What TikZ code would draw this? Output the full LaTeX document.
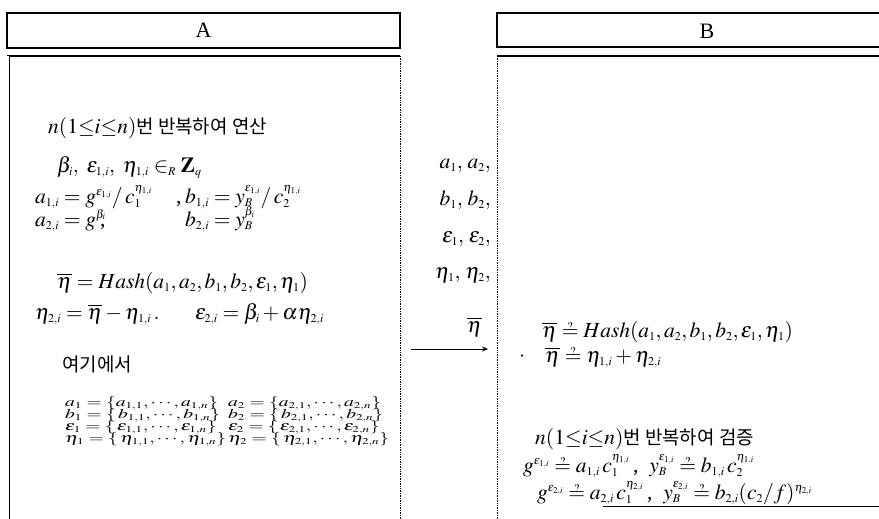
\documentclass[tikz,border=0pt]{standalone}
\usepackage{mathptmx}
\usepackage[no-math]{fontspec}
\usetikzlibrary{arrows.meta}
\setmainfont{Liberation Serif}
\newfontfamily\kor[Scale=0.88]{Noto Sans CJK KR}
\DeclareMathSizes{21.5}{21.5}{12}{9}
\DeclareMathSizes{13.5}{13.5}{9}{7}
\newcommand{\qeq}{\mathrel{\hbox{\ooalign{$=$\cr\hidewidth\raisebox{6.5pt}{$\scriptstyle ?$}\hidewidth\cr}}}}
\newcommand{\wide}[1]{\scalebox{1.45}[1]{#1}}
\tikzset{
  big/.style={anchor=base west, inner sep=0pt, font=\fontsize{21.5}{24}\selectfont},
  sml/.style={anchor=base west, inner sep=0pt, font=\fontsize{13.5}{15}\selectfont},
  mid/.style={anchor=base east, inner sep=0pt, font=\fontsize{21.5}{24}\selectfont},
  hdr/.style={draw, line width=1.6pt, inner sep=0pt, font=\fontsize{22}{24}\selectfont},
}
\begin{document}
\begin{tikzpicture}[x=1pt,y=-1pt]
\useasboundingbox (0,0) rectangle (879,519);
\clip (0,0) rectangle (879,519);
% headers
\node[hdr, minimum width=393pt, minimum height=35pt] (hA) at (203.5,30.5) {A};
\node[hdr, minimum width=420pt, minimum height=34pt] (hB) at (707,30) {};
\node[font=\fontsize{22}{24}\selectfont, inner sep=0pt] (lB) at (707,31) {B};
% main box A
\coordinate (Atl) at (7,56);
\coordinate (Atr) at (400,56);
\coordinate (Abl) at (7,519);
\coordinate (Abr) at (400,519);
\draw[line width=1.6pt] (Atl) -- (Atr);
\draw[double, double distance=1.6pt, line width=0.7pt] (8,56) -- (8,519);
\draw[densely dotted, line width=0.7pt] (Atr) -- (Abr);
% main box B
\coordinate (Btl) at (497,56);
\coordinate (Btr) at (879,56);
\coordinate (Bbl) at (497,519);
\draw[line width=1.6pt] (Btl) -- (Btr);
\draw[densely dotted, line width=0.7pt] (Btl) -- (Bbl);
% A texts
\node[big] (a1) at (48,133) {$n(1{\le} i {\le} n)$\kor 번 반복하여 연산};
\node[big] (a2) at (57,172) {$\beta_i,\ \varepsilon_{1,i},\ \eta_{1,i} \in_R \mathbf{Z}_q$};
\node[big] (a3) at (35,203) {$a_{1,i}=g^{\varepsilon_{1,i}}/\,c_1^{\eta_{1,i}}$};
\node[big] (a3c) at (176,203) {,};
\node[big] (a3b) at (185,203) {$b_{1,i}=y_B^{\varepsilon_{1,i}}/\,c_2^{\eta_{1,i}}$};
\node[big] (a4) at (35,226) {$a_{2,i}=g^{\beta_i}$};
\node[big] (a4c) at (100,226) {,};
\node[big] (a4b) at (185,226) {$b_{2,i}=y_B^{\beta_i}$};
\node[big] (a5) at (57,288) {$\overline{\eta}=Hash(a_1,a_2,b_1,b_2,\varepsilon_1,\eta_1)$};
\node[big] (a6) at (35,319) {$\eta_{2,i}=\overline{\eta}-\eta_{1,i}\,.$};
\node[big] (a6b) at (195,319) {$\varepsilon_{2,i}=\beta_i+\alpha\eta_{2,i}$};
\node[big] (a7) at (62,371) {\kor 여기에서};
\node[sml] (s1) at (65,406) {\wide{$a_1=\{a_{1,1},\cdots,a_{1,n}\}$}};
\node[sml] (s1b) at (228,406) {\wide{$a_2=\{a_{2,1},\cdots,a_{2,n}\}$}};
\node[sml] (s2) at (65,418) {\wide{$b_1=\{\,b_{1,1},\cdots,b_{1,n}\}$}};
\node[sml] (s2b) at (228,418) {\wide{$b_2=\{\,b_{2,1},\cdots,b_{2,n}\}$}};
\node[sml] (s3) at (65,430) {\wide{$\varepsilon_1=\{\,\varepsilon_{1,1},\cdots,\varepsilon_{1,n}\}$}};
\node[sml] (s3b) at (228,430) {\wide{$\varepsilon_2=\{\,\varepsilon_{2,1},\cdots,\varepsilon_{2,n}\}$}};
\node[sml] (s4) at (65,442) {\wide{$\eta_1=\{\,\eta_{1,1},\cdots,\eta_{1,n}\}$}};
\node[sml] (s4b) at (228,442) {\wide{$\eta_2=\{\,\eta_{2,1},\cdots,\eta_{2,n}\}$}};
% middle
\node[mid] (m1) at (491,168) {$a_1,\,a_2,$};
\node[mid] (m2) at (491,205) {$b_1,\,b_2,$};
\node[mid] (m3) at (491,242) {$\varepsilon_1,\,\varepsilon_2,$};
\node[mid] (m4) at (491,278) {$\eta_1,\,\eta_2,$};
\node[mid] (m5) at (482,332) {$\overline{\eta}$};
\coordinate (arS) at (411,349);
\coordinate (arE) at (488,349);
\draw[-{Stealth[length=6pt,width=5pt]}, line width=0.8pt] (arS) -- (arE);
% B texts
\node[big] (b1) at (542,337) {$\overline{\eta}\qeq Hash(a_1,a_2,b_1,b_2,\varepsilon_1,\eta_1)$};
\node[big] (bd) at (519,361) {$\cdot$};
\node[big] (b2) at (545,362) {$\overline{\eta}\qeq\eta_{1,i}+\eta_{2,i}$};
\node[big] (b3) at (535,444) {$n(1{\le} i {\le} n)$\kor 번 반복하여 검증};
\node[big] (b4) at (523,472) {$g^{\varepsilon_{1,i}}\qeq a_{1,i}\,c_1^{\eta_{1,i}}$\,,\ \ $y_B^{\varepsilon_{1,i}}\qeq b_{1,i}\,c_2^{\eta_{1,i}}$};
\node[big] (b5) at (537,499) {$g^{\varepsilon_{2,i}}\qeq a_{2,i}\,c_1^{\eta_{2,i}}$\,,\ \ $y_B^{\varepsilon_{2,i}}\qeq b_{2,i}(c_2/f)^{\eta_{2,i}}$};
\coordinate (uS) at (603,506);
\coordinate (uE) at (879,506);
\draw[line width=0.6pt] (uS) -- (uE);
\end{tikzpicture}
\end{document}
